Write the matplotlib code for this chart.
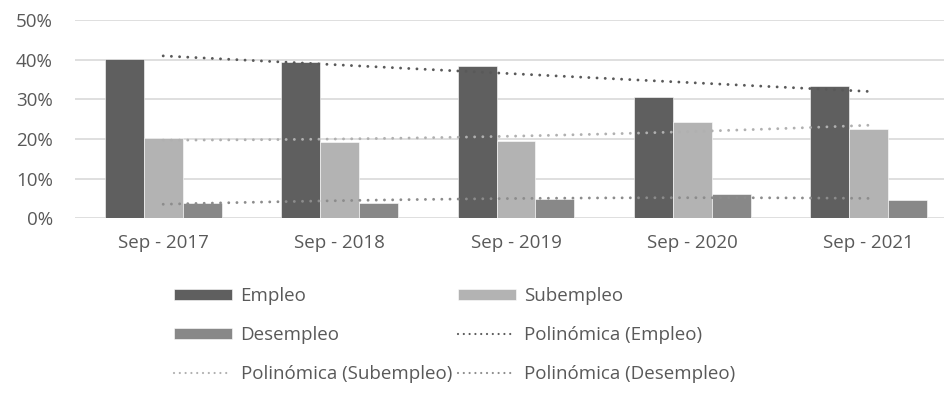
#!/usr/bin/env python3

import matplotlib
matplotlib.use('Agg')
import matplotlib.pyplot as plt
import numpy as np

# values (percent)
periods = ['Sep - 2017', 'Sep - 2018', 'Sep - 2019', 'Sep - 2020', 'Sep - 2021']
empleo = [40.2, 39.5, 38.4, 30.7, 33.4]
subempleo = [20.3, 19.2, 19.6, 24.2, 22.5]
desempleo = [3.9, 3.8, 4.8, 6.1, 4.6]

series = [
    ('Empleo', empleo, '#5f5f5f', '#595959'),
    ('Subempleo', subempleo, '#b3b3b3', '#b0b0b0'),
    ('Desempleo', desempleo, '#888888', '#8c8c8c'),
]

plt.rcParams['font.family'] = ['Open Sans', 'DejaVu Sans']
text_color = '#595959'
grid_color = '#d9d9d9'
fs = 13.5

fig = plt.figure(figsize=(9.44, 4.04), dpi=100)
ax = fig.add_axes([75 / 944, 1 - 218.3 / 404, 882 / 944, 198.3 / 404])

x = np.arange(len(periods))
width = 0.221
bars = []
for i, (name, vals, col, _) in enumerate(series):
    b = ax.bar(x + (i - 1) * width, np.array(vals) / 100, width, color=col,
               label=name, zorder=2, edgecolor='white', linewidth=0.4)
    bars.append(b)

# polynomial (order 2) trend lines, as in the spreadsheet
trend = []
for name, vals, _, tcol in series:
    coef = np.polyfit(x, vals, 2)
    xs = np.linspace(x[0], x[-1], 100)
    ln, = ax.plot(xs, np.polyval(coef, xs) / 100, color=tcol, lw=2.1,
                  linestyle=(0, (0.01, 2.8)), dash_capstyle='round', zorder=3,
                  label='Polinómica (%s)' % name)
    trend.append(ln)

ax.set_xlim(-0.5, len(periods) - 0.5)
ax.set_ylim(0, 0.5)
ax.set_yticks(np.arange(0, 0.51, 0.1))
ax.set_yticklabels(['%d%%' % v for v in range(0, 51, 10)])
ax.set_xticks(x)
ax.set_xticklabels(periods)
ax.grid(axis='y', color=grid_color, lw=1.2, zorder=0)
ax.set_axisbelow(True)
for s in ax.spines.values():
    s.set_visible(False)
ax.tick_params(axis='both', length=0, colors=text_color, labelsize=fs)
ax.tick_params(axis='y', pad=16)
ax.tick_params(axis='x', pad=11)

# legend, two columns (matplotlib fills column-wise, so reorder)
handles = [bars[0], bars[2], trend[1], bars[1], trend[0], trend[2]]
labels = [h.get_label() for h in handles]
leg = fig.legend(handles, labels, ncol=2, loc='upper left',
                 bbox_to_anchor=(174 / 944, 1 - 287 / 404), frameon=False,
                 fontsize=fs, handlelength=3.1, handleheight=0.55,
                 labelspacing=1.12, columnspacing=0.3, handletextpad=0.45,
                 borderaxespad=0, borderpad=0)
for ln in leg.get_lines():
    ln.set_linewidth(1.6)
    ln.set_linestyle((0, (0.01, 2.6)))
for t in leg.get_texts():
    t.set_color(text_color)

fig.savefig('out.png', dpi=100)
